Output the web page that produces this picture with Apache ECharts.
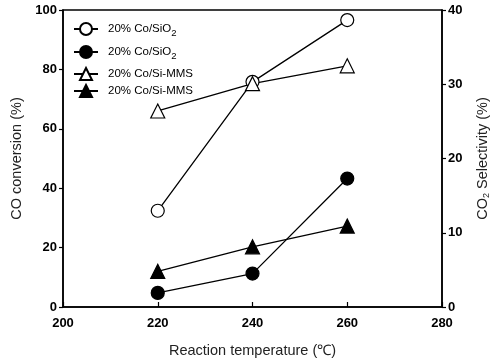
<!DOCTYPE html>
<html>
<head>
<meta charset="utf-8">
<script src="https://cdn.jsdelivr.net/npm/echarts@6/dist/echarts.min.js"></script>
<style>
  html, body { margin: 0; padding: 0; background: #fff; }
  #main { width: 495px; height: 362px; }
</style>
</head>
<body>
<div id="main"></div>
<script>
// Reaction temperatures (℃)
const temperatures = [220, 240, 260];
// 20% Co/SiO2
const sio2Conversion = [32.4, 75.8, 96.6];   // CO conversion (%), left axis
const sio2Selectivity = [1.9, 4.5, 17.3];    // CO2 selectivity (%), right axis
// 20% Co/Si-MMS
const mmsConversion = [66.0, 75.2, 81.2];
const mmsSelectivity = [4.8, 8.1, 10.9];

const seriesKeys = ['a', 'b', 'c', 'd'];
const legendLabels = ['20% Co/SiO{sub|2}', '20% Co/SiO{sub|2}', '20% Co/Si-MMS', '20% Co/Si-MMS'];
const legendTops = [17, 40, 62, 79];

const font = 'Liberation Sans, Arial, sans-serif';

function pairs(ys) {
  return temperatures.map((t, i) => [t, ys[i]]);
}

function makeSeries(name, ys, symbol, filled, yAxisIndex, size) {
  return {
    name: name,
    type: 'line',
    yAxisIndex: yAxisIndex,
    data: pairs(ys),
    symbol: symbol,
    symbolSize: size,
    showAllSymbol: true,
    lineStyle: { color: '#000', width: 1.3 },
    itemStyle: {
      color: filled ? '#000' : '#fff',
      borderColor: '#000',
      borderWidth: 1.2
    },
    emphasis: { disabled: true },
    animation: false
  };
}

// one legend per row, so the uneven row spacing of the original can be kept
const legends = seriesKeys.map((key, i) => ({
  left: 68, top: legendTops[i],
  itemWidth: 24, itemHeight: 15,
  data: [key],
  formatter: () => legendLabels[i],
  textStyle: {
    fontFamily: font, fontSize: 11.5, color: '#000',
    padding: [0, 0, 0, 5],
    rich: {
      sub: { fontFamily: font, fontSize: 9.5, padding: [8, 0, 0, 0] }
    }
  }
}));

const chart = echarts.init(document.getElementById('main'));

const option = {
  backgroundColor: '#fff',
  animation: false,
  grid: {
    left: 63, right: 53, top: 10, bottom: 55,
    outerBoundsMode: 'none',
    show: true, borderColor: '#000', borderWidth: 1.5
  },
  legend: legends,
  xAxis: {
    type: 'value',
    min: 200, max: 280, interval: 20,
    name: 'Reaction temperature (℃)',
    nameLocation: 'middle',
    nameGap: 36,
    nameTextStyle: { fontFamily: font, fontSize: 14.5, color: '#222' },
    axisLine: { lineStyle: { color: '#000', width: 1.5 } },
    axisTick: { inside: true, length: 5, lineStyle: { color: '#000', width: 1.2 } },
    axisLabel: { fontFamily: font, fontSize: 13, fontWeight: 'bold', color: '#000', margin: 10 },
    splitLine: { show: false }
  },
  yAxis: [
    {
      type: 'value',
      min: 0, max: 100, interval: 20,
      name: 'CO conversion (%)',
      nameLocation: 'middle',
      nameGap: 29,
      nameTextStyle: { fontFamily: font, fontSize: 14.5, color: '#222' },
      axisLine: { show: true, lineStyle: { color: '#000', width: 1.5 } },
      axisTick: { show: true, length: 4, lineStyle: { color: '#000', width: 1.2 } },
      axisLabel: { fontFamily: font, fontSize: 13, fontWeight: 'bold', color: '#000', margin: 6 },
      splitLine: { show: false }
    },
    {
      type: 'value',
      min: 0, max: 40, interval: 10,
      position: 'right',
      name: 'CO{sub|2} Selectivity (%)',
      nameLocation: 'middle',
      nameGap: 32,
      nameRotate: 90,
      nameTextStyle: {
        fontFamily: font, fontSize: 14.5, color: '#222',
        rich: { sub: { fontFamily: font, fontSize: 9, color: '#222', padding: [8, 0, 0, 0] } }
      },
      axisLine: { show: true, lineStyle: { color: '#000', width: 1.5 } },
      axisTick: { show: true, length: 4, lineStyle: { color: '#000', width: 1.2 } },
      axisLabel: { fontFamily: font, fontSize: 13, fontWeight: 'bold', color: '#000', margin: 6 },
      splitLine: { show: false }
    }
  ],
  series: [
    makeSeries('a', sio2Conversion, 'circle', false, 0, 13),
    makeSeries('b', sio2Selectivity, 'circle', true, 1, 13),
    makeSeries('c', mmsConversion, 'triangle', false, 0, 14),
    makeSeries('d', mmsSelectivity, 'triangle', true, 1, 14)
  ]
};

chart.setOption(option);
</script>
</body>
</html>
